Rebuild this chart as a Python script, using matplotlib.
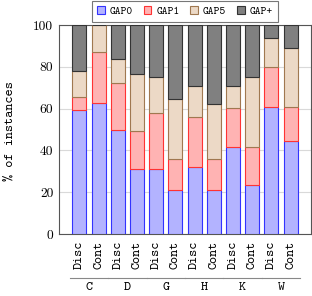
import matplotlib
matplotlib.use("Agg")
import matplotlib.pyplot as plt
import matplotlib.transforms as mtransforms
from matplotlib.patches import Patch
import numpy as np

groups = ["C", "D", "G", "H", "K", "W"]
subs = ["Disc", "Cont"]
series = ["GAP0", "GAP1", "GAP5", "GAP+"]
gap0 = [59.4, 62.5, 50.0, 31.3, 31.3, 21.1, 32.1, 21.1, 41.4, 23.5, 61.0, 44.4]
gap1 = [6.3, 24.8, 22.1, 17.9, 26.5, 14.9, 23.9, 14.9, 18.8, 17.9, 18.7, 16.6]
gap5 = [12.4, 12.7, 11.4, 27.3, 17.1, 28.7, 15.0, 26.4, 10.8, 33.5, 14.0, 27.9]
gapp = [21.9, 0.0, 16.5, 23.5, 25.1, 35.3, 29.0, 37.6, 29.0, 25.1, 6.3, 11.1]
yticks = [0, 20, 40, 60, 80, 100]

fills = ["#b3b3ff", "#ffb3b3", "#ecd9c6", "#808080"]
edges = ["#3333ff", "#ff3333", "#a07850", "#333333"]

mono = ["cmtt10", "DejaVu Sans Mono"]
serif = ["cmr10", "DejaVu Serif"]

W, H = 312, 296
fig = plt.figure(figsize=(W / 100, H / 100), dpi=100)
ax = fig.add_axes([59 / W, (H - 234) / H, 252 / W, 209 / H])

n = len(gap0)
x = np.arange(n)
bottom = np.zeros(n)
handles = []
for vals, fc, ec, lab in zip([gap0, gap1, gap5, gapp], fills, edges, series):
    v = np.array(vals)
    ax.bar(x, v, width=0.73, bottom=bottom, color=fc, edgecolor=ec, linewidth=0.8, zorder=3)
    bottom += v
    handles.append(Patch(facecolor=fc, edgecolor=ec, linewidth=0.8, label=lab))

ax.set_xlim(-1.06, 12.06)
ax.set_ylim(0, 100)
ax.set_yticks(yticks)
ax.set_yticklabels([str(t) for t in yticks], fontfamily=serif, fontsize=9.7)
ax.set_xticks(x)
ax.set_xticklabels(subs * len(groups), rotation=90, fontfamily=mono, fontsize=9.7)
ax.tick_params(axis="both", length=0, pad=4)
ax.tick_params(axis="x", pad=5)
ax.grid(axis="y", color="#d9d9d9", linewidth=0.8, zorder=0)
for s in ax.spines.values():
    s.set_color("#555555")
    s.set_linewidth(0.8)
fig.text(10 / W, 1 - 131 / H, "% of instances", rotation=90, ha="center", va="center",
         fontfamily=mono, fontsize=9.8)

trans = mtransforms.blended_transform_factory(ax.transData, fig.transFigure)
for i, g in enumerate(groups):
    x0, x1 = 2 * i - 0.5, 2 * i + 1.5
    ax.plot([x0, x1], [(H - 278) / H] * 2, transform=trans, color="#888888",
            linewidth=0.8, clip_on=False)
    ax.text((x0 + x1) / 2, (H - 288) / H, g, transform=trans, ha="center", va="center",
            fontfamily=mono, fontsize=9.7)

leg = fig.legend(handles=handles, ncol=4, loc="upper center",
                 bbox_to_anchor=(185 / W, 1 - 1 / H), prop={"family": mono, "size": 8},
                 frameon=True, fancybox=False, edgecolor="#555555", handlelength=0.7,
                 handleheight=0.7, handletextpad=0.45, columnspacing=0.95, borderpad=0.45,
                 borderaxespad=0)
leg.get_frame().set_linewidth(0.8)
leg.set_zorder(10)

fig.savefig("out.png", dpi=100)
